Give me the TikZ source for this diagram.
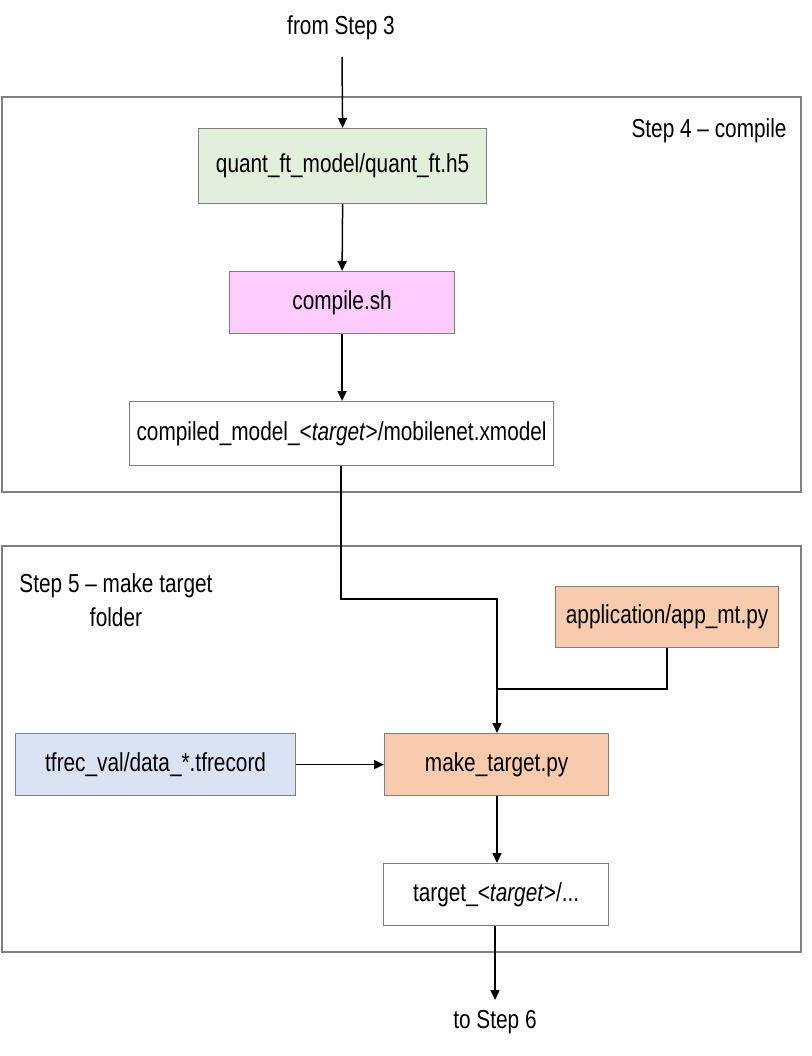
\documentclass[tikz,border=0pt]{standalone}
\usepackage{fontspec}
\setmainfont[FakeStretch=0.8]{Liberation Sans}
\usetikzlibrary{arrows.meta}
\definecolor{bordergray}{HTML}{808080}
\definecolor{boxgray}{HTML}{7F7F7F}
\definecolor{greenfill}{HTML}{E2EFDA}
\definecolor{pinkfill}{HTML}{FFCCFF}
\definecolor{peachfill}{HTML}{F8CBAD}
\definecolor{bluefill}{HTML}{DAE3F3}
\tikzset{
  frame/.style={draw=bordergray, line width=2pt},
  box/.style={draw=boxgray, line width=1.2pt, anchor=north west, inner sep=0pt, font=\fontsize{26}{31}\selectfont},
  lbl/.style={font=\fontsize{26}{31}\selectfont, inner sep=0pt},
  conn/.style={line width=1.5pt, -{Triangle[width=9pt,length=10pt]}},
  plain/.style={line width=1.5pt},
}
\begin{document}
\begin{tikzpicture}[x=1pt,y=-1pt]
\useasboundingbox (0,0) rectangle (811,1056);
% frames
\draw[frame] (2,97) rectangle (801,492);
\draw[frame] (2,546) rectangle (801,952);
\node[lbl] (s4) at (709,131) {Step 4 – compile};
\node[lbl, align=center] (s5) at (116,600) {Step 5 – make target\\[3pt]folder};
% texts
\node[lbl] (from) at (341,28) {from Step 3};
\node[lbl] (to) at (495,1022) {to Step 6};
\coordinate (fromend) at (342,57);
\coordinate (toend) at (495,1000);
% boxes
\node[box, fill=greenfill, minimum width=288pt, minimum height=75pt] (quant) at (198,128) {quant\_ft\_model/quant\_ft.h5};
\node[box, fill=pinkfill, minimum width=225pt, minimum height=62pt] (comp) at (229,271) {compile.sh};
\node[box, fill=white, minimum width=424pt, minimum height=64pt] (cm) at (129,401) {compiled\_model\_<\textit{target}>/mobilenet.xmodel};
\node[box, fill=peachfill, minimum width=223pt, minimum height=61pt] (app) at (555,586) {application/app\_mt.py};
\node[box, fill=bluefill, minimum width=280pt, minimum height=62pt] (tfrec) at (15,733) {tfrec\_val/data\_*.tfrecord};
\node[box, fill=peachfill, minimum width=224pt, minimum height=62pt] (mk) at (384,733) {make\_target.py};
\node[box, fill=white, minimum width=225pt, minimum height=62pt] (tgt) at (383,863) {target\_<\textit{target}>/...};
% connectors
\draw[conn] (fromend) -- (quant.north);
\draw[conn] (quant.south) -- (comp.north);
\draw[conn] (comp.south) -- (cm.north -| comp.south);
\draw[conn] (cm.south -| 341,0) -- (341,599) -| (mk.north -| 497,0);
\draw[plain] (app.south -| 667,0) |- (497,689);
\draw[conn] (tfrec.east) -- (mk.west);
\draw[conn] (mk.south -| 497,0) -- (tgt.north -| 497,0);
\draw[conn] (tgt.south -| 495,0) -- (toend);
\end{tikzpicture}
\end{document}
